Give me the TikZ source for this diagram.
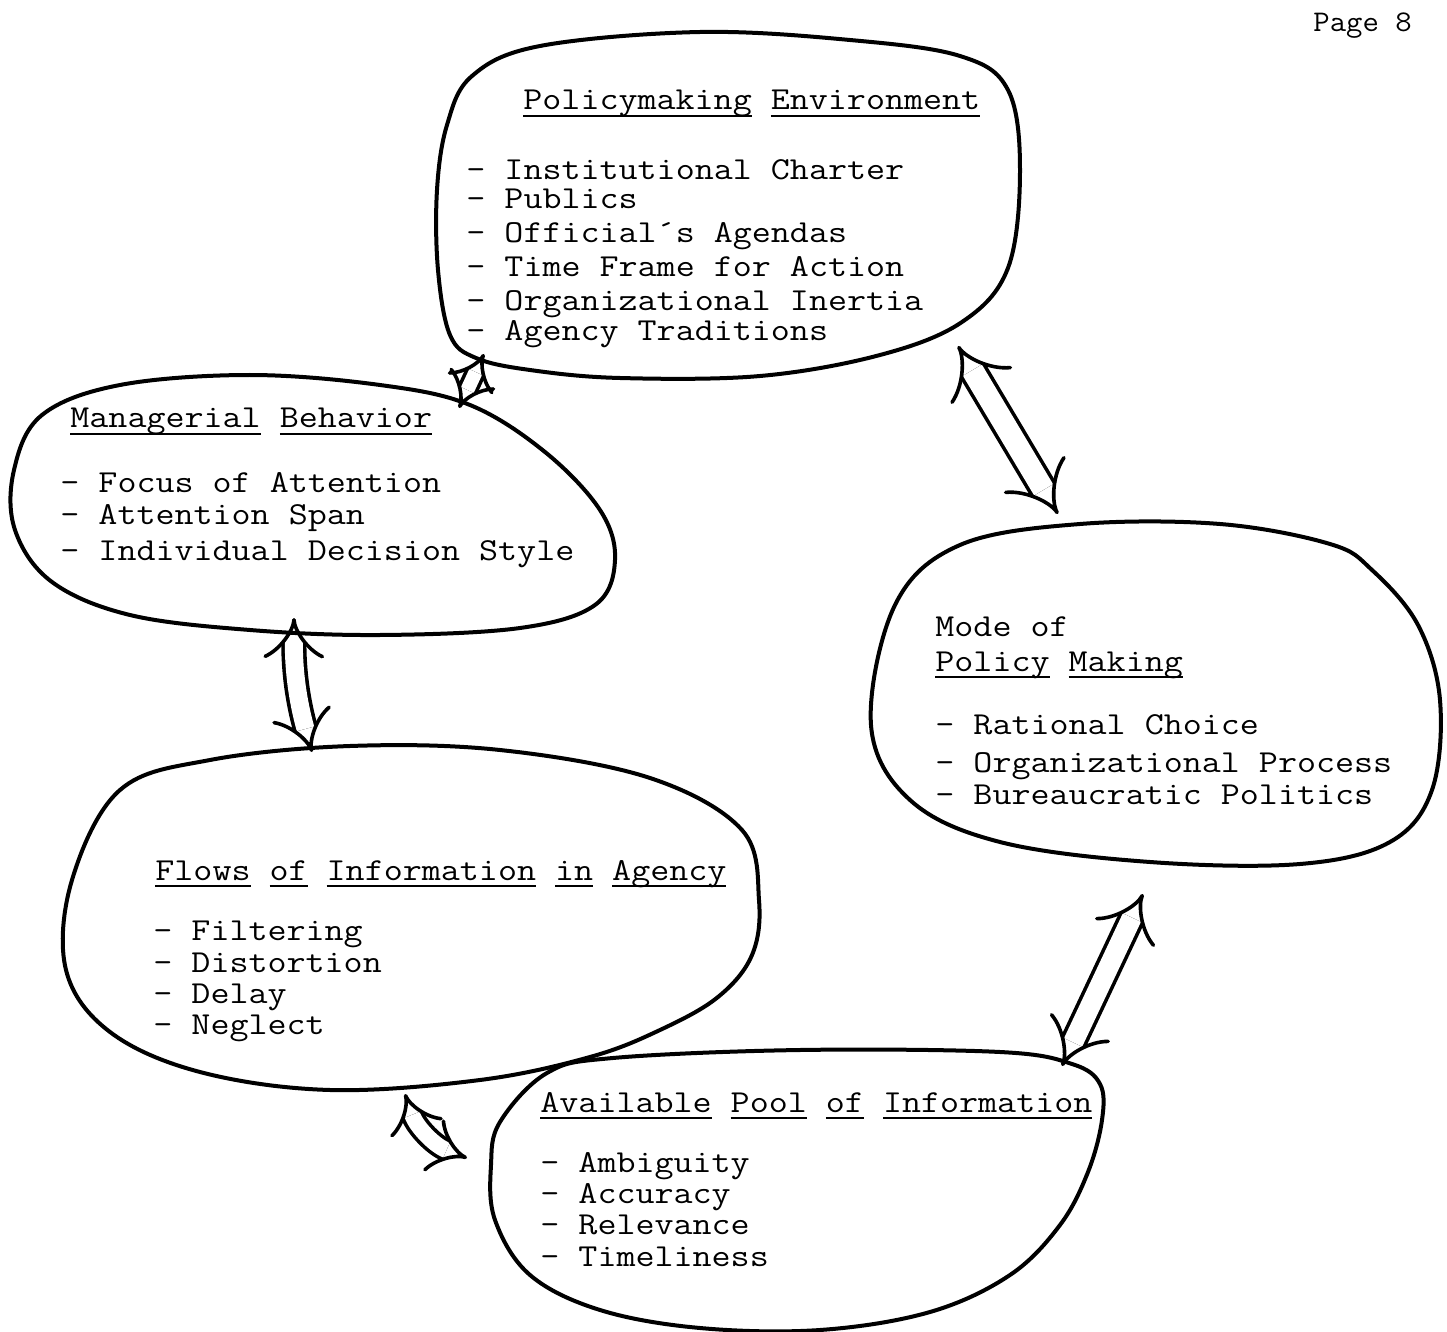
\documentclass[tikz,border=0pt]{standalone}
\usepackage{fontspec}
\usetikzlibrary{arrows.meta}
\newcommand\uw[1]{\setbox0\hbox{#1}\rlap{\rule[-3.5pt]{\wd0}{0.8pt}}\box0\relax}
\newcommand\tws[1]{\scalebox{1.155}[1]{#1}}
\tikzset{
  blob/.style={line width=2pt, line join=round},
  lbl/.style={font=\ttfamily\fontsize{16}{18}\selectfont, anchor=base west, inner sep=0pt},
  dbl/.style={line width=1.8pt, double distance=7pt, {Implies[scale=1.35]}-{Implies[scale=1.35]}},
}
\begin{document}
\begin{tikzpicture}[x=0.5pt,y=-0.5pt]
\fill[white] (0,0) rectangle (1447,1332);
\useasboundingbox (0,0) rectangle (1447,1332);

% Page number
\node[font=\ttfamily\fontsize{15}{17}\selectfont, anchor=base west, inner sep=0pt] (page) at (1313,32) {\scalebox{1.06}[1]{Page 8}};

% Blob 1: Policymaking Environment
\draw[blob] plot[smooth cycle, tension=0.6] coordinates {
 (472,76) (540,46) (700,32) (850,40) (960,56) (1008,90) (1020,170) (1008,268)
 (962,322) (880,355) (760,376) (620,378) (530,370) (476,358) (450,335) (438,270) (437,190) (447,125)};
\node[lbl] (peT) at (523,110) {\tws{\uw{Policymaking} \uw{Environment}}};
\foreach \t/\y [count=\i] in {Institutional Charter/180, Publics/209, Official´s Agendas/243, Time Frame for Action/277, Organizational Inertia/311, Agency Traditions/341}
  \node[lbl] (pe\i) at (466,\y) {\tws{- \t}};

% Blob 2: Managerial Behavior
\draw[blob] plot[smooth cycle, tension=0.6] coordinates {
 (14,470) (42,415) (120,385) (250,375) (380,385) (470,405) (545,452) (600,510)
 (615,560) (595,605) (520,628) (380,635) (250,630) (130,615) (52,582) (15,530)};
\node[lbl] (mbT) at (70,428) {\tws{\uw{Managerial} \uw{Behavior}}};
\foreach \t/\y [count=\i] in {Focus of Attention/493, Attention Span/524, Individual Decision Style/560}
  \node[lbl] (mb\i) at (60,\y) {\tws{- \t}};

% Blob 3: Flows of Information in Agency
\draw[blob] plot[smooth cycle, tension=0.6] coordinates {
 (120,790) (210,760) (350,746) (500,750) (650,778) (742,830) (759,900) (752,955)
 (718,997) (660,1030) (590,1057) (480,1080) (330,1090) (200,1072) (110,1032) (66,970) (72,880)};
\node[lbl] (fiT) at (155,880) {\tws{\uw{Flows} \uw{of} \uw{Information} \uw{in} \uw{Agency}}};
\foreach \t/\y [count=\i] in {Filtering/940, Distortion/972, Delay/1003, Neglect/1034}
  \node[lbl] (fi\i) at (153,\y) {\tws{- \t}};

% Blob 4: Mode of Policy Making
\draw[blob] plot[smooth cycle, tension=0.6] coordinates {
 (895,605) (960,545) (1080,524) (1220,524) (1330,544) (1372,570) (1418,625) (1440,700)
 (1432,790) (1390,842) (1300,864) (1150,862) (1000,842) (910,800) (871,725)};
\node[lbl] (mpA) at (935,636) {\tws{Mode of}};
\node[lbl] (mpT) at (935,671) {\tws{\uw{Policy} \uw{Making}}};
\foreach \t/\y [count=\i] in {Rational Choice/734, Organizational Process/772, Bureaucratic Politics/804}
  \node[lbl] (mp\i) at (935,\y) {\tws{- \t}};

% Blob 5: Available Pool of Information
\draw[blob] plot[smooth cycle, tension=0.6] coordinates {
 (500,1122) (547,1073) (613,1058) (800,1050) (1000,1052) (1072,1064) (1100,1084) (1102,1120)
 (1088,1172) (1060,1225) (1010,1275) (930,1312) (820,1330) (700,1328) (600,1310) (530,1275) (495,1220) (491,1165)};
\node[lbl] (apT) at (540,1112) {\tws{\uw{Available} \uw{Pool} \uw{of} \uw{Information}}};
\foreach \t/\y [count=\i] in {Ambiguity/1172, Accuracy/1203, Relevance/1234, Timeliness/1266}
  \node[lbl] (ap\i) at (540,\y) {\tws{- \t}};

% Arrow end points
\coordinate (a1s) at (484,354);  \coordinate (a1e) at (459,408);
\coordinate (a2s) at (958,346);  \coordinate (a2e) at (1058,514);
\coordinate (a3s) at (294,618);  \coordinate (a3e) at (312,752);
\coordinate (a4s) at (405,1094); \coordinate (a4e) at (467,1158);
\coordinate (a5s) at (1143,894); \coordinate (a5e) at (1062,1066);

\draw[dbl] (a1s) -- (a1e);
\draw[dbl, double distance=11pt] (a2s) -- (a2e);
\draw[dbl, double distance=9pt] (a3s) to[bend right=8] (a3e);
\draw[dbl, double distance=8pt] (a4s) to[bend right=25] (a4e);
\draw[dbl, double distance=10pt] (a5s) -- (a5e);
\end{tikzpicture}
\end{document}
